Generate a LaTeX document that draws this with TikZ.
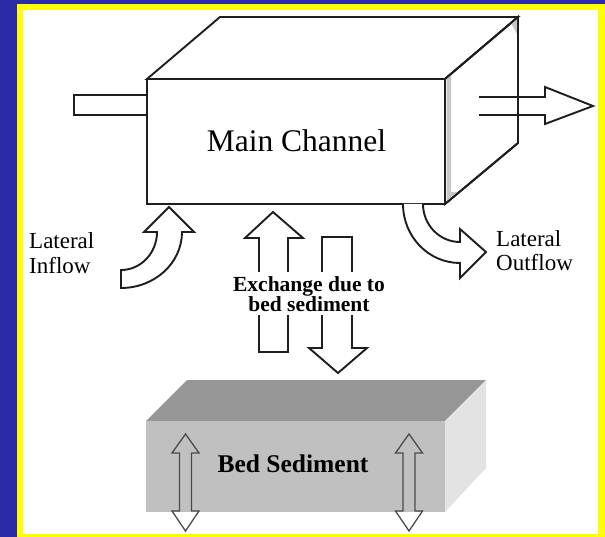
\documentclass[tikz,border=0pt]{standalone}
\usepackage{fontspec}
\setmainfont{Liberation Serif}
\definecolor{slideblue}{RGB}{43,43,168}
\definecolor{frameyellow}{RGB}{255,255,0}
\definecolor{sedtop}{RGB}{150,150,150}
\definecolor{sedfront}{RGB}{192,192,192}
\definecolor{sedside}{RGB}{227,227,227}
\definecolor{inkline}{RGB}{30,30,30}
\definecolor{faceshade}{RGB}{200,200,200}
\begin{document}
\begin{tikzpicture}[x=1pt, y=-1pt,
    edge/.style={draw=inkline, line width=1.9pt, line join=miter},
    thinedge/.style={draw=inkline!80, line width=1.3pt, line join=miter},
    plainlabel/.style={font=\fontsize{23}{24}\selectfont, inner sep=0pt, anchor=base west}]
  \useasboundingbox (0,0) rectangle (605,537);

  % slide background and framed panel
  \fill[slideblue] (0,0) rectangle (605,537);
  \fill[frameyellow] (17,4) rectangle (605,537);
  \fill[white] (23,10) rectangle (598,534);

  % ---- main channel block ----
  \filldraw[edge, fill=white] (147,79) -- (220,17) -- (518,17) -- (445,79) -- cycle;
  \filldraw[edge, fill=white] (445,79) -- (518,17) -- (518,143) -- (445,204) -- cycle;
  \fill[faceshade] (446.5,79) -- (451,75) -- (451,197) -- (446.5,201) -- cycle;
  \fill[faceshade] (447,201) -- (458,192) -- (451,192) -- cycle;
  \fill[faceshade] (511,23) -- (517,18) -- (517,34) -- cycle;
  \draw[edge] (445,79) -- (518,17) -- (518,143) -- (445,204);
  \filldraw[edge, fill=white] (147,79) rectangle (445,204);
  \node[font=\fontsize{31.5}{32}\selectfont, inner sep=0pt, anchor=base] (mainch) at (296.5,152) {Main Channel};

  % inflow pipe on the left face
  \draw[edge] (147,95) -- (74,95) -- (74,115) -- (147,115);

  % outflow arrow through the right face
  \draw[edge] (479,97) -- (545,97) -- (545,87) -- (593,106) -- (545,124) -- (545,115) -- (479,115);

  % ---- lateral inflow (curved arrow up into the channel) ----
  \filldraw[edge, fill=white]
    (169,207) -- (194,232) -- (182,232)
    .. controls (182,263) and (154.7,288) .. (121,288)
    -- (121,270)
    .. controls (140.9,270) and (157,253) .. (157,232)
    -- (144,232) -- cycle;
  \node[plainlabel] (latin1) at (29,249) {Lateral};
  \node[plainlabel] (latin2) at (29,274) {Inflow};

  % ---- lateral outflow (curved arrow out of the channel) ----
  \filldraw[edge, fill=white]
    (403,204)
    .. controls (403,236.6) and (428.5,263) .. (460,263)
    -- (460,278) -- (486,252) -- (460,229) -- (460,242)
    .. controls (439.6,242) and (423,225) .. (423,204);
  \node[plainlabel] (latout1) at (496,247) {Lateral};
  \node[plainlabel] (latout2) at (496,271) {Outflow};

  % ---- exchange arrows between channel and bed ----
  \draw[edge] (273,212) -- (303,238) -- (288,238) -- (288,352) -- (259,352) -- (259,238) -- (245,238) -- cycle;
  \draw[edge] (338,373) -- (367,348) -- (352,348) -- (352,237) -- (322,237) -- (322,348) -- (309,348) -- cycle;
  \fill[white] (234,272) rectangle (384,315);
  \node[font=\bfseries\fontsize{21.5}{18}\selectfont, inner sep=0pt, align=center, anchor=center]
    (exch) at (309,294) {Exchange due to\\bed sediment};

  % ---- bed sediment block ----
  \fill[sedtop] (146,421) -- (187,380) -- (486,380) -- (445,421) -- cycle;
  \fill[sedside] (445,421) -- (486,380) -- (486,468) -- (445,512) -- cycle;
  \fill[sedfront] (146,421) rectangle (445,512);
  \node[font=\bfseries\fontsize{25.5}{26}\selectfont, inner sep=0pt, anchor=base] (bedsed) at (293,472) {Bed Sediment};

  % two-way arrows through the bed
  \foreach \cx/\nm in {185.5/dbleft, 409/dbright}{
    \draw[thinedge]
      (\cx,434) -- (\cx+13.5,453) -- (\cx+6,453) -- (\cx+6,511) -- (\cx+13.5,511)
      -- (\cx,531) -- (\cx-13.5,511) -- (\cx-6,511) -- (\cx-6,453) -- (\cx-13.5,453) -- cycle;
  }
\end{tikzpicture}
\end{document}
